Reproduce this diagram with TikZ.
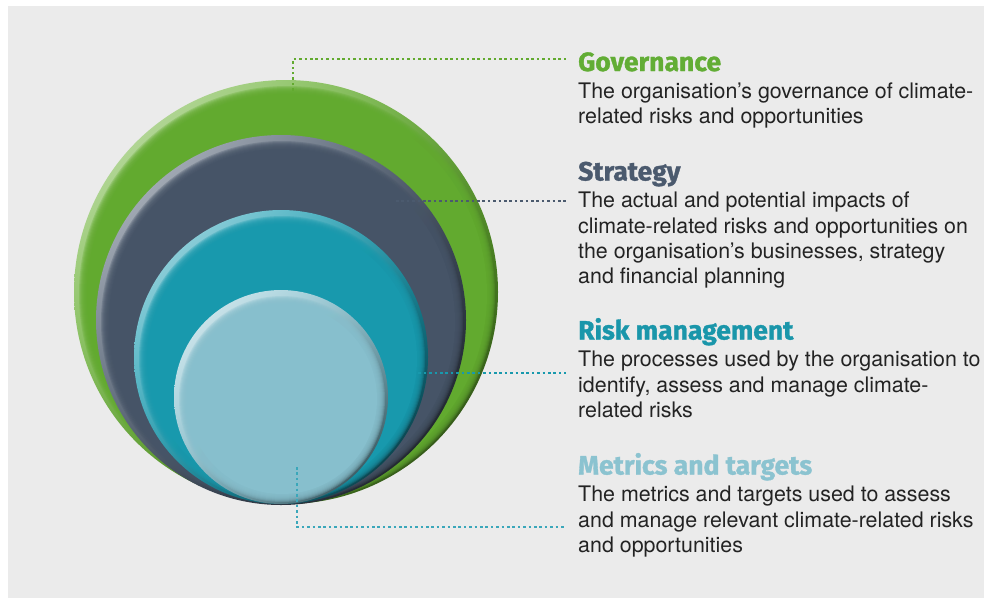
\documentclass[tikz,border=0pt]{standalone}
\usepackage{fontspec}
\setmainfont{TeX Gyre Heros}
\newfontfamily\headfont[FakeBold=1.2]{Fira Sans}
\usetikzlibrary{positioning,shadings}

\definecolor{bggray}{HTML}{EBEBEB}
\definecolor{bodytext}{HTML}{232323}
\definecolor{govgreen}{HTML}{62AA2F}
\definecolor{govlight}{HTML}{CFE8BA}
\definecolor{govdark}{HTML}{223D0E}
\definecolor{govhead}{HTML}{62AD35}
\definecolor{stratslate}{HTML}{465467}
\definecolor{stratlight}{HTML}{C3C9D1}
\definecolor{stratdark}{HTML}{12161B}
\definecolor{strathead}{HTML}{4B5A6E}
\definecolor{riskteal}{HTML}{1899AD}
\definecolor{risklight}{HTML}{B4E2EA}
\definecolor{riskdark}{HTML}{04262E}
\definecolor{riskhead}{HTML}{1A96AA}
\definecolor{metblue}{HTML}{87BFCD}
\definecolor{metlight}{HTML}{E2F2F6}
\definecolor{metdark}{HTML}{24393F}
\definecolor{methead}{HTML}{8BC3D0}
\definecolor{metlead}{HTML}{3AA7BA}

\tikzset{
  head/.style={anchor=base west, inner sep=0pt, text=#1,
    font=\headfont\bfseries\fontsize{26.5}{30}\selectfont},
  blurb/.style={below=9.2pt of #1, anchor=north west, inner sep=0pt,
    align=left, text=bodytext, font=\fontsize{21.4}{25.4}\selectfont},
  lead/.style={#1, line width=2.5pt, dash pattern=on 2.5pt off 2.9pt},
  disc/.style={circle, inner sep=0pt, minimum size=#1},
}

\begin{document}
\begin{tikzpicture}[x=1pt, y=-1pt]
  \useasboundingbox (0,0) rectangle (984,598);
  \fill[white] (0,0) rectangle (984,598);
  \fill[bggray] (8,6) rectangle (984,598);

  % nested bevelled discs, outermost first
  \foreach \nm/\cx/\cy/\rad/\base/\hi/\lo in {
      gov/286/292/212/govgreen/govlight/govdark,
      strat/281/320/185/stratslate/stratlight/stratdark,
      risk/281/357/147/riskteal/risklight/riskdark,
      met/281/397/107/metblue/metlight/metdark} {
    \shade[upper left=\hi, upper right=\base, lower left=\base, lower right=\lo]
      (\cx,\cy) circle[radius=\rad pt];
    \foreach \k in {0,...,7}
      \fill[\base, opacity=.3] (\cx+1,\cy+2) circle[radius=\rad pt-4pt-\k pt];
    \fill[\base] (\cx+1,\cy+2) circle[radius=\rad pt-12pt];
    \node[disc=2*\rad pt] (\nm-disc) at (\cx,\cy) {};
  }

  % headings and texts
  \node[head=govhead] (gov-head) at (578,71) {Governance};
  \node[blurb=gov-head.base west] (gov-text)
    {\strut The organisation’s governance of climate-\\related risks and opportunities};
  \node[head=strathead] (strat-head) at (578,180.5) {Strategy};
  \node[blurb=strat-head.base west] (strat-text)
    {\strut The actual and potential impacts of\\climate-related risks and opportunities on\\the organisation’s businesses, strategy\\and financial planning};
  \node[head=riskhead] (risk-head) at (578,339.5) {Risk management};
  \node[blurb=risk-head.base west] (risk-text)
    {\strut The processes used by the organisation to\\identify, assess and manage climate-\\related risks};
  \node[head=methead] (met-head) at (578,474.5) {Metrics and targets};
  \node[blurb=met-head.base west] (met-text)
    {\strut The metrics and targets used to assess\\and manage relevant climate-related risks\\and opportunities};

  % dotted leaders
  \coordinate (gov-pin) at (293,96);
  \coordinate (gov-end) at (566,59);
  \coordinate (strat-pin) at (396,201);
  \coordinate (strat-end) at (566,201);
  \coordinate (risk-pin) at (413,373);
  \coordinate (risk-end) at (566,373);
  \coordinate (met-pin) at (297,467);
  \coordinate (met-end) at (566,527);
  \draw[lead=govgreen] (gov-pin) |- (gov-end);
  \draw[lead=strathead] (strat-pin) -- (strat-end);
  \draw[lead=riskteal] (risk-pin) -- (risk-end);
  \draw[lead=metlead] (met-pin) |- (met-end);
\end{tikzpicture}
\end{document}
